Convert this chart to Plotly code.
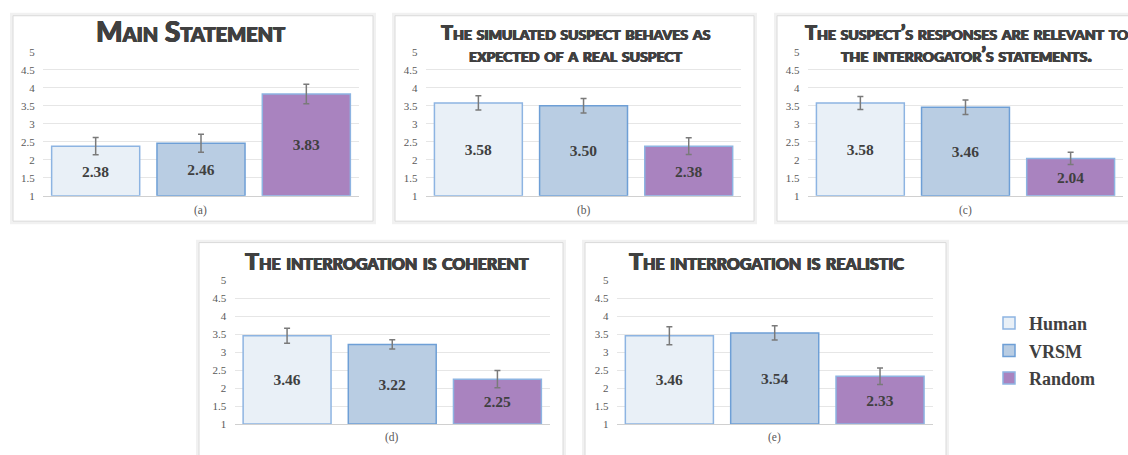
import plotly.graph_objects as go

# ---------------- data ----------------
groups = ["Human", "VRSM", "Random"]
panel_titles = [
    "Main Statement",
    "The simulated suspect behaves as<br>expected of a real suspect",
    "The suspect’s responses are relevant to<br>the interrogator’s statements.",
    "The interrogation is coherent",
    "The interrogation is realistic",
]
panel_labels = ["(a)", "(b)", "(c)", "(d)", "(e)"]
human_means = [2.38, 3.58, 3.58, 3.46, 3.46]
vrsm_means = [2.46, 3.50, 3.46, 3.22, 3.54]
random_means = [3.83, 2.38, 2.04, 2.25, 2.33]
human_err = [0.24, 0.20, 0.18, 0.21, 0.25]
vrsm_err = [0.25, 0.20, 0.20, 0.13, 0.20]
random_err = [0.27, 0.23, 0.17, 0.24, 0.23]
y_ticks = [1, 1.5, 2, 2.5, 3, 3.5, 4, 4.5, 5]
y_tick_text = ["1", "1.5", "2", "2.5", "3", "3.5", "4", "4.5", "5"]
y_base = 1

# ---------------- styling ----------------
W, H = 1128, 455
fills = {"Human": "#e9f0f7", "VRSM": "#b9cde3", "Random": "#a983bf"}
borders = {"Human": "#8db4e2", "VRSM": "#6e9fd6", "Random": "#8db4e2"}
means = {"Human": human_means, "VRSM": vrsm_means, "Random": random_means}
errs = {"Human": human_err, "VRSM": vrsm_err, "Random": random_err}

# pixel geometry per panel (ty: list of title line centres)
panels = [
    dict(x0=43, x1=359, ytop=47, ybot=195, card=(13, 10, 373, 221), tx=190.5, ty=[26], ts=28, ly=210),
    dict(x0=425.8, x1=741.3, ytop=47, ybot=195, card=(395, 10, 754, 221), tx=575.5, ty=[27, 49], ts=20, ly=210),
    dict(x0=807.8, x1=1123.2, ytop=47, ybot=195, card=(777, 10, 1140, 221), tx=966, ty=[27, 49], ts=20, ly=210),
    dict(x0=234.5, x1=550, ytop=282, ybot=429.3, card=(199, 243, 563, 470), tx=386.7, ty=[262], ts=23.4, ly=443),
    dict(x0=616.7, x1=932.7, ytop=282, ybot=429.3, card=(585, 243, 946, 470), tx=766, ty=[262], ts=23.3, ly=443),
]

def px(x):
    return x / W

def py(y):
    return 1 - y / H

fig = go.Figure()
shapes = []
annotations = []
layout_axes = {}

for i, p in enumerate(panels):
    n = i + 1
    xa = "x" if n == 1 else f"x{n}"
    ya = "y" if n == 1 else f"y{n}"
    for g in groups:
        m = means[g][i]
        fig.add_trace(go.Bar(
            x=[g], y=[m - y_base],
            base=y_base,
            xaxis=xa, yaxis=ya,
            name=g, legendgroup=g, showlegend=(i == 0),
            width=0.836,
            marker=dict(color=fills[g], line=dict(color=borders[g], width=1.5)),
            error_y=dict(type="data", array=[errs[g][i]], color="#7a7a7a", thickness=1.5, width=3),
            text=[f"{m:.2f}"],
            textposition="inside",
            insidetextanchor="middle",
            constraintext="none",
            textfont=dict(family="Liberation Serif", size=15.5, color="#404040", weight="bold"),
            hoverinfo="skip",
        ))
    xkey = "xaxis" if n == 1 else f"xaxis{n}"
    ykey = "yaxis" if n == 1 else f"yaxis{n}"
    layout_axes[xkey] = dict(
        domain=[px(p["x0"]), px(p["x1"])], anchor=ya,
        type="category", categoryorder="array", categoryarray=groups,
        range=[-0.5, 2.5], showticklabels=False, showgrid=False,
        showline=True, linecolor="#d0d0d0", linewidth=1, ticks="", zeroline=False,
    )
    layout_axes[ykey] = dict(
        domain=[py(p["ybot"]), py(p["ytop"])], anchor=xa,
        range=[1, 5], tickvals=y_ticks, ticktext=y_tick_text,
        showgrid=True, gridcolor="#e6e6e6", gridwidth=1, zeroline=False,
        showline=False, ticks="outside", ticklen=5, tickcolor="rgba(0,0,0,0)",
        tickfont=dict(family="Liberation Serif", size=11, color="#595959"),
    )
    cx0, cy0, cx1, cy1 = p["card"]
    shapes.append(dict(type="rect", xref="paper", yref="paper",
                       x0=px(cx0 - 1.5), x1=px(cx1 + 1.5), y0=py(cy1 + 1.5), y1=py(cy0 - 1.5),
                       line=dict(color="#f1f1f1", width=3), fillcolor="rgba(0,0,0,0)", layer="below"))
    shapes.append(dict(type="rect", xref="paper", yref="paper",
                       x0=px(cx0), x1=px(cx1), y0=py(cy1), y1=py(cy0),
                       line=dict(color="#dadada", width=1), fillcolor="white", layer="below"))
    for line_text, line_y in zip(panel_titles[i].split("<br>"), p["ty"]):
        annotations.append(dict(
            text=line_text, xref="paper", yref="paper", x=px(p["tx"]), y=py(line_y),
            xanchor="center", yanchor="middle", showarrow=False, align="center",
            font=dict(family="Lato, Open Sans, DejaVu Sans", size=p["ts"], color="#404040",
                      weight=900, variant="small-caps",
                      shadow="0.6px 0 0 #404040, -0.6px 0 0 #404040, 0 0.4px 0 #404040"),
        ))
    annotations.append(dict(
        text=panel_labels[i], xref=f"{xa} domain", yref="paper", x=0.5, y=py(p["ly"]),
        xanchor="center", yanchor="middle", showarrow=False,
        font=dict(family="Liberation Serif", size=11.5, color="#595959"),
    ))

fig.update_layout(
    width=W, height=H, autosize=False,
    margin=dict(l=0, r=0, t=0, b=0),
    paper_bgcolor="white", plot_bgcolor="rgba(0,0,0,0)",
    barmode="overlay",
    shapes=shapes, annotations=annotations,
    showlegend=True,
    legend=dict(
        x=px(989), y=py(307), xanchor="left", yanchor="top",
        bgcolor="rgba(0,0,0,0)", borderwidth=0, tracegroupgap=1,
        font=dict(family="Liberation Serif", size=18, color="#404040", weight="bold"),
        itemwidth=30,
    ),
    **layout_axes,
)

fig.write_html(
    "out.html",
    config={"displayModeBar": False},
    post_script="document.body.style.margin='0';document.body.style.padding='0';document.documentElement.style.overflow='hidden';",
)
